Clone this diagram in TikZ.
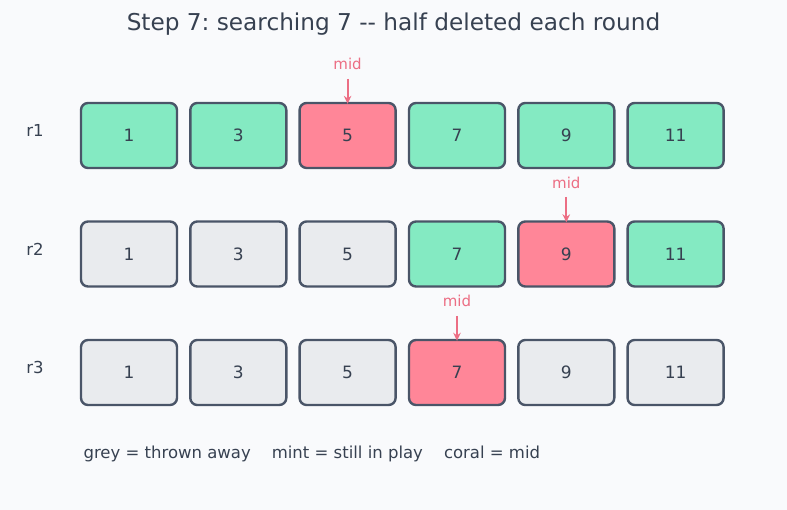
\documentclass[tikz,border=0pt]{standalone}
\usepackage{fontspec}
\setmainfont{DejaVu Sans}[Ligatures=NoCommon]
\usetikzlibrary{arrows.meta}
\frenchspacing
\definecolor{bg}{HTML}{F9FAFC}
\definecolor{mint}{HTML}{84EAC2}
\definecolor{coral}{HTML}{FF8698}
\definecolor{greyc}{HTML}{E9EBEE}
\definecolor{edge}{HTML}{4A5568}
\definecolor{ink}{HTML}{374151}
\definecolor{midc}{HTML}{EC6E84}
\tikzset{
  cell/.style={draw=edge, line width=2.4pt, rounded corners=7pt, minimum width=96pt, minimum height=65pt, inner sep=0pt, text=ink, font=\fontsize{17}{19}\selectfont},
  m/.style={cell, fill=mint},
  c/.style={cell, fill=coral},
  g/.style={cell, fill=greyc},
  rowlab/.style={text=ink, font=\fontsize{16.5}{18}\selectfont},
  midlab/.style={text=midc, font=\fontsize{15}{17}\selectfont},
  midarrow/.style={draw=midc, line width=2pt, -{Stealth[length=8pt,width=7.5pt]}},
}
\begin{document}
\begin{tikzpicture}[x=1pt,y=-1pt]
\fill[bg] (0,0) rectangle (787,510);
\useasboundingbox (0,0) rectangle (787,510);
\node[text=ink, font=\fontsize{23.2}{27}\selectfont] (title) at (393.5,24) {\frenchspacing Step 7: searching 7 -{}- half deleted each round};
% row labels
\node[rowlab] (r1) at (35,130) {r1};
\node[rowlab] (r2) at (35,249) {r2};
\node[rowlab] (r3) at (35,367) {r3};
% row 1
\node[m] (a1) at (129,135.5) {1};
\node[m] (a2) at (238.3,135.5) {3};
\node[c] (a3) at (347.6,135.5) {5};
\node[m] (a4) at (457,135.5) {7};
\node[m] (a5) at (566.3,135.5) {9};
\node[m] (a6) at (675.6,135.5) {11};
% row 2
\node[g] (b1) at (129,254) {1};
\node[g] (b2) at (238.3,254) {3};
\node[g] (b3) at (347.6,254) {5};
\node[m] (b4) at (457,254) {7};
\node[c] (b5) at (566.3,254) {9};
\node[m] (b6) at (675.6,254) {11};
% row 3
\node[g] (c1) at (129,372.5) {1};
\node[g] (c2) at (238.3,372.5) {3};
\node[g] (c3) at (347.6,372.5) {5};
\node[c] (c4) at (457,372.5) {7};
\node[g] (c5) at (566.3,372.5) {9};
\node[g] (c6) at (675.6,372.5) {11};
% mid markers
\node[midlab] (m1) at (347.6,64) {mid};
\coordinate (m1s) at (347.6,79);
\draw[midarrow] (m1s) -- ([yshift=-2pt]a3.north);
\node[midlab] (m2) at (566.3,183) {mid};
\coordinate (m2s) at (566.3,197);
\draw[midarrow] (m2s) -- ([yshift=-2pt]b5.north);
\node[midlab] (m3) at (457,301) {mid};
\coordinate (m3s) at (457,316);
\draw[midarrow] (m3s) -- ([yshift=-2pt]c4.north);
% legend
\node[text=ink, font=\fontsize{16.5}{18}\selectfont, anchor=west] (legend) at (80,454) {grey = thrown away\hspace{21pt}mint = still in play\hspace{21pt}coral = mid};
\end{tikzpicture}
\end{document}
